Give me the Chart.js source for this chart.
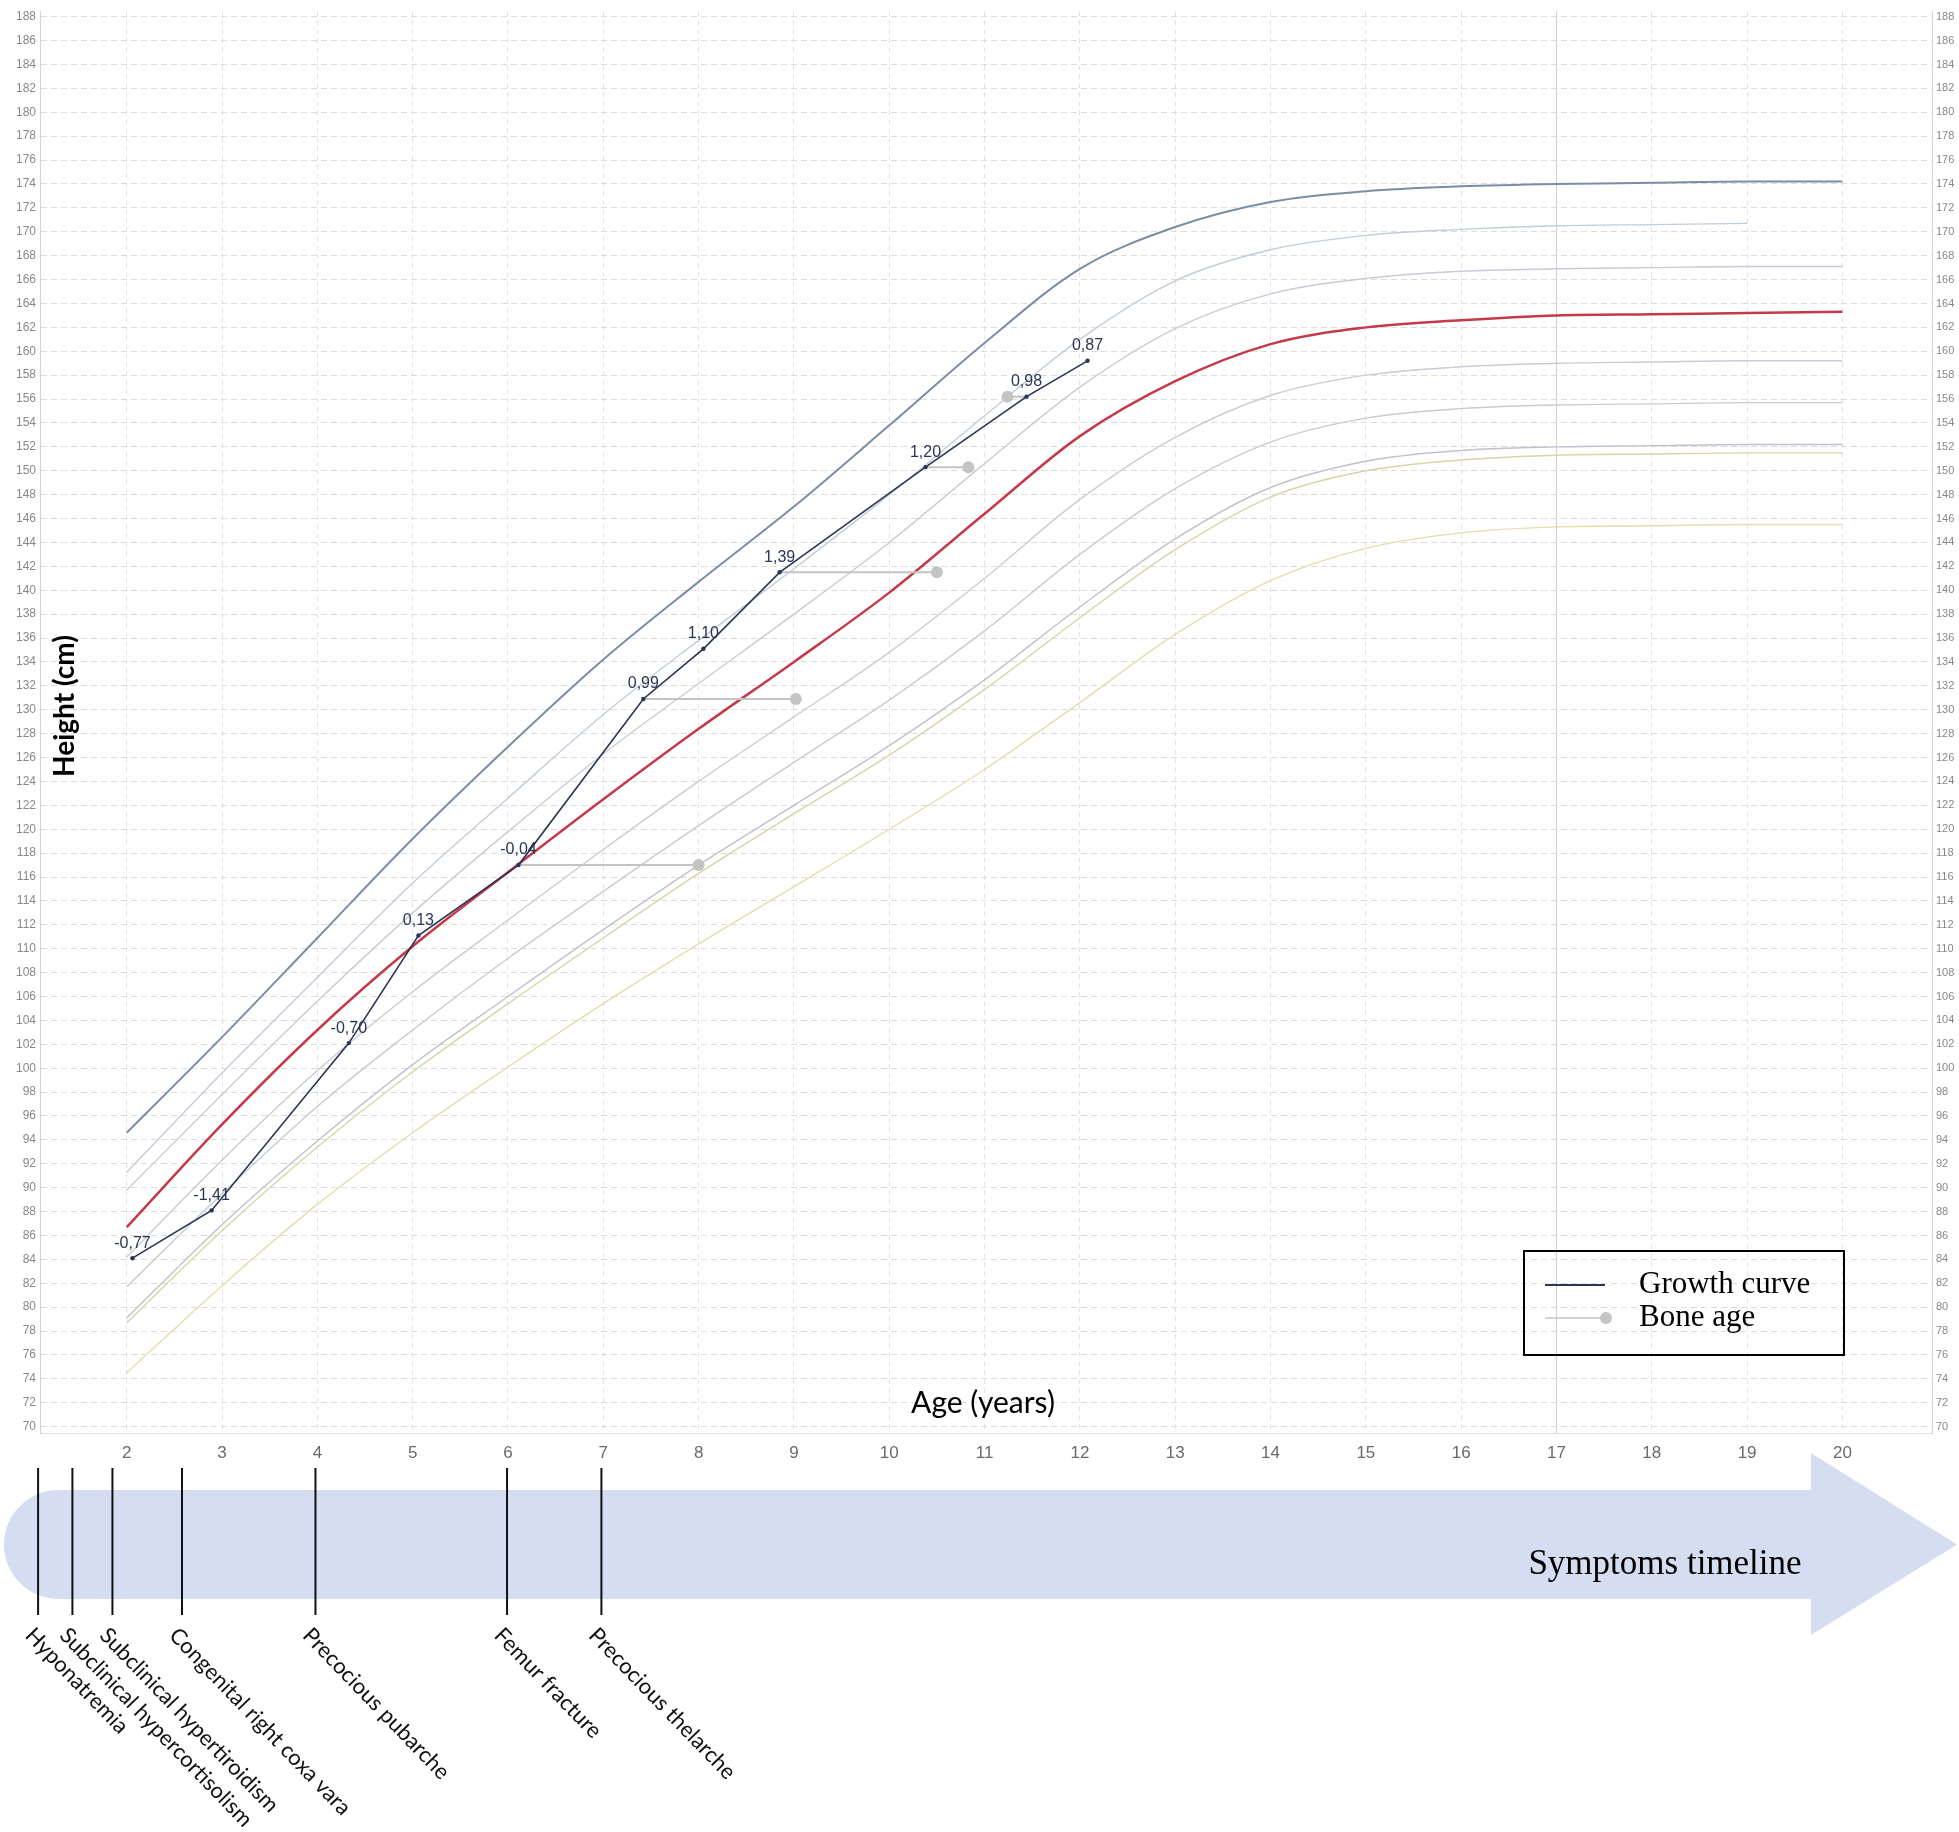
<!DOCTYPE html>
<html>
<head>
<meta charset="utf-8">
<script src="https://cdn.jsdelivr.net/npm/chart.js@4.4.1/dist/chart.umd.min.js"></script>
<style>
  html, body { margin: 0; padding: 0; background: #fff; }
  #wrap { position: relative; width: 1959px; height: 1832px; }
</style>
</head>
<body>
<div id="wrap"><canvas id="growthChart" width="1959" height="1832"></canvas></div>
<script>
// reference curves, read at whole years
const refAges = [2, 3, 4, 5, 6, 7, 8, 9, 10, 11, 12, 13, 14, 15, 16, 17, 18, 19, 20];
const p97 = [94.6, 102.6, 110.9, 119.2, 126.9, 134.2, 140.7, 147.0, 153.8, 160.7, 166.9, 170.4, 172.5, 173.4, 173.8, 174.0, 174.1, 174.2, 174.2];
const p90 = [91.3, 99.6, 107.6, 115.5, 122.6, 129.6, 135.8, 141.8, 148.0, 154.6, 161.0, 165.9, 168.5, 169.7, 170.2, 170.5, 170.6, 170.7];
const p75 = [89.8, 97.8, 105.6, 113.0, 119.8, 126.3, 132.2, 138.0, 144.0, 150.6, 157.0, 161.9, 164.8, 166.1, 166.7, 166.9, 167.0, 167.1, 167.1];
const p50 = [86.7, 95.3, 103.2, 110.2, 116.4, 122.5, 128.4, 134.0, 139.8, 146.4, 152.9, 157.5, 160.6, 162.0, 162.6, 163.0, 163.1, 163.2, 163.3];
const p25 = [84.2, 92.3, 99.8, 106.4, 112.4, 118.3, 124.0, 129.4, 134.8, 141.0, 147.6, 152.8, 156.3, 158.0, 158.7, 159.0, 159.1, 159.2, 159.2];
const p10 = [81.7, 89.5, 96.8, 103.2, 109.2, 114.8, 120.3, 125.6, 130.8, 136.6, 143.0, 148.5, 152.4, 154.4, 155.2, 155.5, 155.6, 155.7, 155.7];
const p3 = [79.1, 86.9, 93.9, 100.3, 106.0, 111.6, 117.0, 122.0, 127.0, 132.5, 138.6, 144.3, 148.6, 150.8, 151.7, 152.0, 152.1, 152.2, 152.2];
const sdMinus2 = [78.7, 86.4, 93.4, 99.7, 105.4, 110.9, 116.3, 121.3, 126.2, 131.7, 137.7, 143.4, 147.8, 150.0, 150.9, 151.3, 151.4, 151.5, 151.5];
const sdMinus3 = [74.5, 81.8, 88.6, 94.6, 100.1, 105.4, 110.4, 115.2, 120.0, 125.0, 130.6, 136.3, 140.8, 143.5, 144.8, 145.3, 145.4, 145.5, 145.5];

// patient visits
const visitAges = [2.06, 2.89, 4.33, 5.06, 6.11, 7.42, 8.05, 8.85, 10.38, 11.44, 12.08];
const visitHeights = [84.1, 88.1, 102.1, 111.1, 117.0, 130.9, 135.1, 141.5, 150.3, 156.2, 159.2];
const zScores = ['-0,77', '-1,41', '-0,70', '0,13', '-0,04', '0,99', '1,10', '1,39', '1,20', '0,98', '0,87'];

// bone age assessments
const boneChronAges = [6.11, 7.42, 8.85, 10.38, 11.44];
const boneHeights = [117.0, 130.9, 141.5, 150.3, 156.2];
const boneAges = [8.0, 9.02, 10.5, 10.83, 11.24];

// symptoms timeline
const eventAges = [1.07, 1.43, 1.85, 2.58, 3.98, 5.99, 6.98];
const eventLabels = ['Hyponatremia', 'Subclinical hypercortisolism', 'Subclinical hypertiroidism',
  'Congenital right coxa vara', 'Precocious pubarche', 'Femur fracture', 'Precocious thelarche'];

const xTicks = [2, 3, 4, 5, 6, 7, 8, 9, 10, 11, 12, 13, 14, 15, 16, 17, 18, 19, 20];
const yTicks = [70, 72, 74, 76, 78, 80, 82, 84, 86, 88, 90, 92, 94, 96, 98, 100, 102, 104, 106, 108,
  110, 112, 114, 116, 118, 120, 122, 124, 126, 128, 130, 132, 134, 136, 138, 140, 142, 144, 146, 148,
  150, 152, 154, 156, 158, 160, 162, 164, 166, 168, 170, 172, 174, 176, 178, 180, 182, 184, 186, 188];

const NAVY = '#2c3456';
const BONE = '#c4c4c4';

const toPts = (xs, ys) => ys.map((y, i) => ({ x: xs[i], y: y }));

const refCurves = [
  { data: p50, color: '#c53a4b', width: 2.5 },
  { data: p97, color: '#7b8da6', width: 2 },
  { data: p90, color: '#c2cddb', width: 1.4 },
  { data: p75, color: '#c6cdd5', width: 1.4 },
  { data: p25, color: '#c7cdd3', width: 1.4 },
  { data: p10, color: '#c6ccd1', width: 1.4 },
  { data: p3, color: '#bcc3ca', width: 1.4 },
  { data: sdMinus2, color: '#d8d4a8', width: 1.4 },
  { data: sdMinus3, color: '#e4ddac', width: 1.4 }
];

const datasets = [];
datasets.push({
  label: 'Growth curve',
  data: toPts(visitAges, visitHeights),
  borderColor: NAVY,
  backgroundColor: NAVY,
  borderWidth: 1.6,
  pointRadius: 2.2,
  pointBorderWidth: 0,
  tension: 0
});
boneChronAges.forEach((a, i) => {
  datasets.push({
    label: 'Bone age',
    data: [{ x: a, y: boneHeights[i] }, { x: boneAges[i], y: boneHeights[i] }],
    borderColor: BONE,
    backgroundColor: BONE,
    borderWidth: 2,
    pointRadius: [0, 6],
    pointBorderWidth: 0,
    tension: 0
  });
});
refCurves.forEach(c => {
  datasets.push({
    label: 'ref',
    data: toPts(refAges, c.data),
    borderColor: c.color,
    borderWidth: c.width,
    pointRadius: 0,
    cubicInterpolationMode: 'monotone'
  });
});

const overlay = {
  id: 'overlay',
  afterDatasetsDraw(chart) {
    const ctx = chart.ctx;
    const meta = chart.getDatasetMeta(0);
    ctx.save();
    ctx.font = '16px "Liberation Sans", Arial, sans-serif';
    ctx.fillStyle = NAVY;
    ctx.textAlign = 'center';
    ctx.textBaseline = 'middle';
    meta.data.forEach((pt, i) => ctx.fillText(zScores[i], pt.x, pt.y - 15));
    ctx.restore();
  },
  afterDraw(chart) {
    const ctx = chart.ctx;
    const xs = chart.scales.x;
    ctx.save();

    // axis titles sit inside the plot
    ctx.fillStyle = '#000';
    ctx.font = '30px Lato, sans-serif';
    ctx.textAlign = 'center';
    ctx.textBaseline = 'middle';
    ctx.fillText('Age (years)', 983, 1403);
    ctx.save();
    ctx.translate(65, 706);
    ctx.rotate(-Math.PI / 2);
    ctx.font = 'bold 28px Lato, sans-serif';
    ctx.fillText('Height (cm)', 0, 0);
    ctx.restore();

    // legend box
    ctx.strokeStyle = '#000';
    ctx.lineWidth = 2;
    ctx.strokeRect(1524, 1251, 320, 104);
    ctx.strokeStyle = NAVY;
    ctx.lineWidth = 2;
    ctx.beginPath(); ctx.moveTo(1545, 1285); ctx.lineTo(1605, 1285); ctx.stroke();
    ctx.strokeStyle = BONE;
    ctx.lineWidth = 1.5;
    ctx.beginPath(); ctx.moveTo(1545, 1318); ctx.lineTo(1605, 1318); ctx.stroke();
    ctx.fillStyle = BONE;
    ctx.beginPath(); ctx.arc(1606, 1318, 6, 0, Math.PI * 2); ctx.fill();
    ctx.fillStyle = '#000';
    ctx.font = '31px "Liberation Serif", "Times New Roman", serif';
    ctx.textAlign = 'left';
    ctx.fillText('Growth curve', 1639, 1285);
    ctx.fillText('Bone age', 1639, 1318);

    // timeline arrow
    const top = 1490, bot = 1599, mid = (top + bot) / 2, r = (bot - top) / 2;
    ctx.fillStyle = '#d5ddf0';
    ctx.beginPath();
    ctx.moveTo(1811, top);
    ctx.lineTo(1811, 1453);
    ctx.lineTo(1957, mid);
    ctx.lineTo(1811, 1635);
    ctx.lineTo(1811, bot);
    ctx.lineTo(4 + r, bot);
    ctx.arc(4 + r, mid, r, Math.PI / 2, Math.PI * 1.5);
    ctx.closePath();
    ctx.fill();
    ctx.fillStyle = '#000';
    ctx.font = '35px "Liberation Serif", "Times New Roman", serif';
    ctx.textAlign = 'center';
    ctx.fillText('Symptoms timeline', 1665, 1565);

    // events
    ctx.strokeStyle = '#111';
    ctx.lineWidth = 2;
    ctx.font = '22px Lato, sans-serif';
    ctx.textAlign = 'left';
    ctx.textBaseline = 'top';
    eventAges.forEach((a, i) => {
      const x = xs.getPixelForValue(a);
      ctx.beginPath(); ctx.moveTo(x, 1468); ctx.lineTo(x, 1615); ctx.stroke();
      ctx.save();
      ctx.translate(x - 1, 1624);
      ctx.rotate(46 * Math.PI / 180);
      ctx.fillStyle = '#111';
      ctx.fillText(eventLabels[i], 0, 0);
      ctx.restore();
    });
    ctx.restore();
  }
};

const yMin = 69.47, yMax = 188.46;

new Chart(document.getElementById('growthChart'), {
  type: 'line',
  data: { datasets: datasets },
  options: {
    responsive: false,
    animation: false,
    devicePixelRatio: 1,
    layout: { padding: 0 },
    plugins: { legend: { display: false }, tooltip: { enabled: false } },
    scales: {
      x: {
        type: 'linear',
        min: 1.09,
        max: 20.94,
        afterBuildTicks: s => { s.ticks = xTicks.map(v => ({ value: v })); },
        afterFit: s => { s.height = 399; },
        grid: {
          color: c => (c.tick && c.tick.value === 17) ? '#cfcfcf' : '#e3e3e3',
          lineWidth: 1,
          drawTicks: false
        },
        border: {
          display: true,
          color: '#dedede',
          dash: c => (c.tick && c.tick.value === 17) ? [] : [5, 4]
        },
        ticks: {
          padding: 10,
          color: '#6a6a6a',
          font: { family: '"Liberation Sans", Arial, sans-serif', size: 17 }
        }
      },
      y: {
        type: 'linear',
        min: yMin,
        max: yMax,
        afterBuildTicks: s => { s.ticks = yTicks.map(v => ({ value: v })); },
        afterFit: s => { s.width = 40; },
        grid: { color: '#dcdcdc', lineWidth: 1, drawTicks: false },
        border: { display: true, color: '#d4d4d4', dash: [6, 4] },
        ticks: {
          padding: 4,
          color: '#888',
          font: { family: '"Liberation Sans", Arial, sans-serif', size: 12 }
        }
      },
      y2: {
        type: 'linear',
        position: 'right',
        min: yMin,
        max: yMax,
        afterBuildTicks: s => { s.ticks = yTicks.map(v => ({ value: v })); },
        afterFit: s => { s.width = 27; },
        grid: { display: false, drawTicks: false },
        border: { display: true, color: '#d4d4d4' },
        ticks: {
          padding: 4,
          color: '#888',
          font: { family: '"Liberation Sans", Arial, sans-serif', size: 11 }
        }
      }
    }
  },
  plugins: [overlay]
});
</script>
</body>
</html>
